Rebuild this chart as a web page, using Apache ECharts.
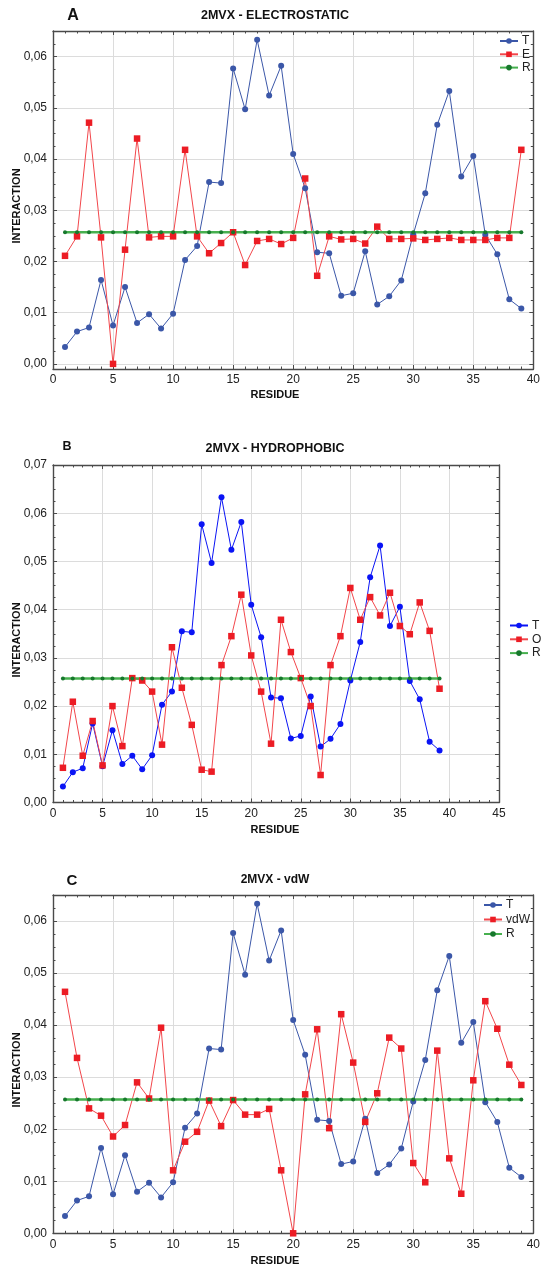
<!DOCTYPE html>
<html>
<head>
<meta charset="utf-8">
<script src="https://cdn.jsdelivr.net/npm/echarts@6/dist/echarts.min.js"></script>
<style>
html,body{margin:0;padding:0;background:#fff;}
#wrap{position:relative;width:543px;height:1266px;}
.pane{position:absolute;left:0;width:543px;}
</style>
</head>
<body>
<div id="wrap">
<div id="pa" class="pane" style="top:0;height:405px;"></div>
<div id="pb" class="pane" style="top:405px;height:435px;"></div>
<div id="pc" class="pane" style="top:840px;height:426px;"></div>
</div>
<script>
// ---- data ----
const residues = [1,2,3,4,5,6,7,8,9,10,11,12,13,14,15,16,17,18,19,20,21,22,23,24,25,26,27,28,29,30,31,32,33,34,35,36,37,38,39];
const T = [0.0033,0.0063,0.0071,0.0164,0.0075,0.0150,0.0080,0.0097,0.0069,0.0098,0.0203,0.0230,0.0355,0.0353,0.0577,0.0497,0.0633,0.0524,0.0582,0.0410,0.0343,0.0218,0.0216,0.0133,0.0138,0.0220,0.0116,0.0132,0.0163,0.0253,0.0333,0.0467,0.0533,0.0366,0.0406,0.0252,0.0214,0.0126,0.0108];
const E = [0.0211,0.0249,0.0471,0.0247,0.0000,0.0223,0.0440,0.0247,0.0249,0.0249,0.0418,0.0249,0.0216,0.0236,0.0257,0.0193,0.0240,0.0244,0.0234,0.0246,0.0362,0.0172,0.0249,0.0243,0.0244,0.0235,0.0268,0.0244,0.0244,0.0245,0.0242,0.0244,0.0246,0.0242,0.0242,0.0242,0.0246,0.0246,0.0418];
const O = [0.0072,0.0209,0.0097,0.0169,0.0077,0.0200,0.0117,0.0258,0.0253,0.0230,0.0120,0.0322,0.0238,0.0161,0.0068,0.0064,0.0285,0.0345,0.0431,0.0305,0.0230,0.0122,0.0379,0.0312,0.0258,0.0200,0.0057,0.0285,0.0345,0.0445,0.0379,0.0426,0.0388,0.0435,0.0366,0.0349,0.0415,0.0356,0.0236];
const vdW = [0.0464,0.0337,0.0240,0.0226,0.0186,0.0208,0.0290,0.0259,0.0395,0.0121,0.0176,0.0195,0.0255,0.0206,0.0256,0.0228,0.0228,0.0239,0.0121,0.0000,0.0267,0.0392,0.0202,0.0421,0.0328,0.0214,0.0269,0.0376,0.0355,0.0135,0.0098,0.0351,0.0144,0.0076,0.0294,0.0446,0.0393,0.0324,0.0285];
const R = [0.0257,0.0257,0.0257,0.0257,0.0257,0.0257,0.0257,0.0257,0.0257,0.0257,0.0257,0.0257,0.0257,0.0257,0.0257,0.0257,0.0257,0.0257,0.0257,0.0257,0.0257,0.0257,0.0257,0.0257,0.0257,0.0257,0.0257,0.0257,0.0257,0.0257,0.0257,0.0257,0.0257,0.0257,0.0257,0.0257,0.0257,0.0257,0.0257];
const panelTitles = ['2MVX - ELECTROSTATIC', '2MVX - HYDROPHOBIC', '2MVX - vdW'];
const panelLetters = ['A', 'B', 'C'];
const xTitle = 'RESIDUE';
const yTitle = 'INTERACTION';

// ---- styling ----
const FONT = '"Liberation Sans", Arial, sans-serif';
const FRAME = '#4a4a4a';
const GRID = '#dcdcdc';
const BLUE_A = '#3b57a8';
const BLUE_B = '#0a14f5';
const RED_M = '#ec1c24';
const RED_L = '#f2464b';
const GREEN_M = '#16782c';
const GREEN_L = '#47b04f';

function pairs(ys){ return residues.map((x,i)=>[x, ys[i]]); }

function yFmt(v){
  const k = v*100;
  if (Math.abs(k - Math.round(k)) > 1e-6 || v < -1e-9) return '';
  return v.toFixed(2).replace('.', ',');
}

function makeAxes(xmax, ymin, ymax){
  const tick = {show:true, inside:true, length:4, lineStyle:{color:FRAME, width:1}};
  const minor = {show:true, length:2.5, lineStyle:{color:FRAME, width:1}};
  const line = {show:true, onZero:false, lineStyle:{color:FRAME, width:1.4}};
  const xBase = {type:'value', min:0, max:xmax, interval:5, axisLine:line, axisTick:tick, minorTick:Object.assign({splitNumber:5}, minor)};
  const yBase = {type:'value', min:ymin, max:ymax, minInterval:0.01, maxInterval:0.01, splitNumber:6, axisLine:line, axisTick:tick, minorTick:Object.assign({splitNumber:4}, minor)};
  return {
    xAxis:[
      Object.assign({}, xBase, {position:'bottom', splitLine:{show:true, lineStyle:{color:GRID, width:1}},
        axisLabel:{show:true, margin:5, fontSize:12, color:'#222', fontFamily:FONT}}),
      Object.assign({}, xBase, {position:'top', splitLine:{show:false}, axisLabel:{show:false}})
    ],
    yAxis:[
      Object.assign({}, yBase, {position:'left', splitLine:{show:true, lineStyle:{color:GRID, width:1}},
        axisLabel:{show:true, margin:6, fontSize:12, color:'#222', fontFamily:FONT, formatter:yFmt}}),
      Object.assign({}, yBase, {position:'right', splitLine:{show:false}, axisLabel:{show:false}})
    ]
  };
}

function lineSeries(name, ys, color, lineColor, symbol, size, width){
  return {
    name:name, type:'line', xAxisIndex:0, yAxisIndex:0, data:pairs(ys),
    symbol:symbol, symbolSize:size, showSymbol:true, animation:false,
    itemStyle:{color:color, borderWidth:0}, lineStyle:{color:lineColor, width:width},
    emphasis:{disabled:true}
  };
}

function texts(letter, lx, ly, lsize, title, tx, ty, tsize, yCx, yCy, rx, ry){
  return [
    {type:'text', x:lx, y:ly, style:{text:letter, textAlign:'center', textVerticalAlign:'middle', fontSize:lsize, fontWeight:'bold', fontFamily:FONT, fill:'#111'}},
    {type:'text', x:tx, y:ty, style:{text:title, textAlign:'center', textVerticalAlign:'middle', fontSize:tsize, fontWeight:'bold', fontFamily:FONT, fill:'#111'}},
    {type:'text', x:yCx, y:yCy, rotation:Math.PI/2, style:{text:yTitle, textAlign:'center', textVerticalAlign:'middle', fontSize:11, fontWeight:'bold', fontFamily:FONT, fill:'#111'}},
    {type:'text', x:rx, y:ry, style:{text:xTitle, textAlign:'center', textVerticalAlign:'middle', fontSize:11, fontWeight:'bold', fontFamily:FONT, fill:'#111'}}
  ];
}

function legend(names, left, top, gap){
  return {
    show:true, orient:'vertical', left:left, top:top, data:names,
    itemWidth:18, itemHeight:7, itemGap:gap, padding:0,
    textStyle:{fontSize:12, color:'#222', fontFamily:FONT, lineHeight:12, padding:[0,0,0,-1]},
    selectedMode:false
  };
}

// Panel A
(function(){
  const c = echarts.init(document.getElementById('pa'), null, {renderer:'canvas'});
  const ax = makeAxes(40, -0.001, 0.065);
  c.setOption(Object.assign({
    animation:false,
    grid:{left:53, right:5, top:31, bottom:36, containLabel:false},
    legend:legend([panelLetters[0] && 'T','E','R'], 499, 35, 1.3),
    graphic:texts(panelLetters[0], 73, 16, 16, panelTitles[0], 275, 16, 12.5, 17, 206, 275, 395),
    series:[
      lineSeries('T', T, BLUE_A, BLUE_A, 'circle', 6, 1),
      lineSeries('E', E, RED_M, RED_L, 'rect', 6.5, 1),
      lineSeries('R', R, GREEN_M, GREEN_L, 'circle', 4, 2.5)
    ]
  }, ax));
})();

// Panel B
(function(){
  const c = echarts.init(document.getElementById('pb'), null, {renderer:'canvas'});
  const ax = makeAxes(45, 0, 0.07);
  c.setOption(Object.assign({
    animation:false,
    grid:{left:53, right:44, top:60, bottom:37.5, containLabel:false},
    legend:legend(['T','O','R'], 509, 214.5, 1.8),
    graphic:texts(panelLetters[1], 67, 42, 12.5, panelTitles[1], 275, 44, 12.5, 17, 235, 275, 425),
    series:[
      lineSeries('T', T, BLUE_B, BLUE_B, 'circle', 6, 1),
      lineSeries('O', O, RED_M, RED_L, 'rect', 6.5, 1),
      lineSeries('R', R, GREEN_M, GREEN_L, 'circle', 4, 2.5)
    ]
  }, ax));
})();

// Panel C
(function(){
  const c = echarts.init(document.getElementById('pc'), null, {renderer:'canvas'});
  const ax = makeAxes(40, 0, 0.065);
  c.setOption(Object.assign({
    animation:false,
    grid:{left:53, right:5, top:55, bottom:32.7, containLabel:false},
    legend:legend(['T','vdW','R'], 483, 59, 2.5),
    graphic:texts(panelLetters[2], 72, 41, 15, panelTitles[2], 275, 40, 12, 17, 230, 275, 420.7),
    series:[
      lineSeries('T', T, BLUE_A, BLUE_A, 'circle', 6, 1),
      lineSeries('vdW', vdW, RED_M, RED_L, 'rect', 6.5, 1),
      lineSeries('R', R, GREEN_M, GREEN_L, 'circle', 4, 2.5)
    ]
  }, ax));
})();
</script>
</body>
</html>
